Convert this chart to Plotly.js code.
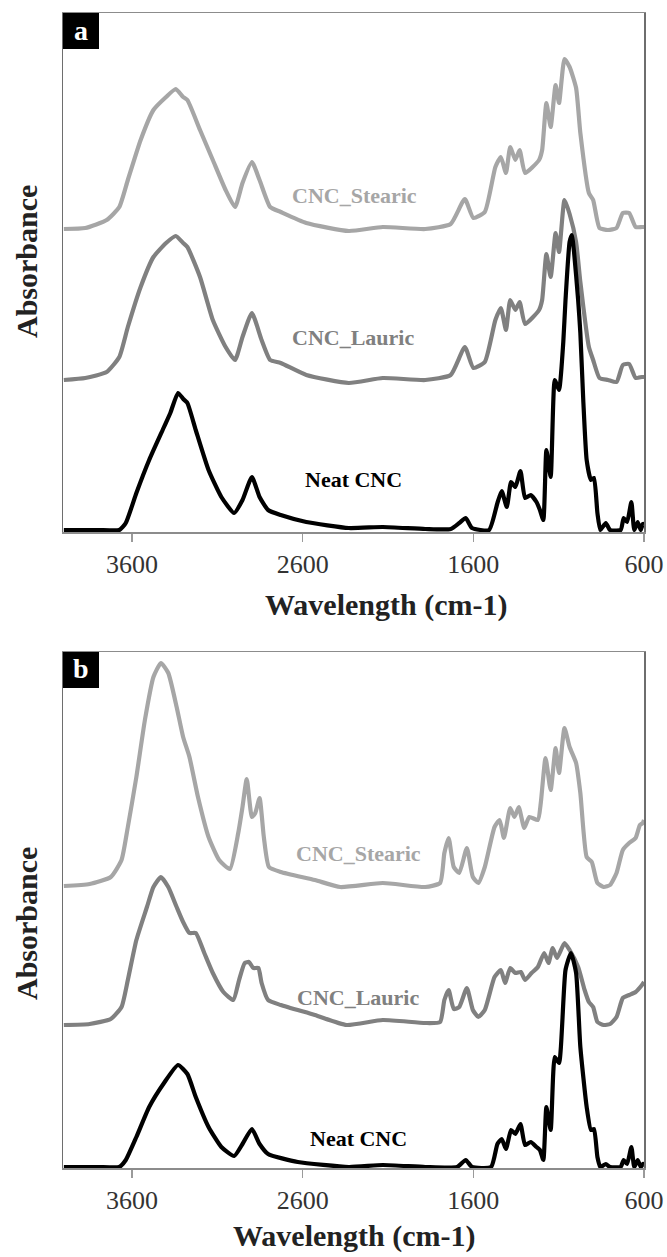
<!DOCTYPE html>
<html>
<head>
<meta charset="utf-8">
<script src="https://cdn.plot.ly/plotly-3.0.1.min.js"></script>
<style>html,body{margin:0;padding:0;background:#fff;}#chart{width:667px;height:1257px;}</style>
</head>
<body>
<div id="chart"></div>
<script>
// ---------- Panel a ----------
const aStearicWn = [4000,3874,3749,3675,3625,3550,3475,3401,3344,3301,3276,3202,3127,3052,2997,2953,2898,2853,2791,2729,2579,2330,2131,1882,1733,1650,1600,1533,1471,1439,1409,1384,1354,1329,1297,1215,1197,1172,1147,1118,1098,1066,1036,998,973,923,898,861,811,761,724,687,649,612,600];
const aStearicAbs = [303,304,312,325,352,392,422,435,443,435,432,402,372,342,325,349,370,352,325,320,309,301,305,303,308,333,314,320,365,375,359,385,372,382,359,372,382,429,405,447,429,473,465,444,399,339,332,304,302,304,319,319,305,305,305];

const aLauricWn = [4000,3874,3749,3675,3625,3550,3475,3401,3344,3301,3276,3202,3127,3052,2997,2953,2898,2841,2791,2729,2579,2330,2131,1882,1733,1650,1600,1533,1471,1439,1409,1384,1354,1329,1297,1215,1197,1172,1147,1118,1098,1066,1036,998,973,923,898,861,811,761,724,687,649,612,600];
const aLauricAbs = [152,154,160,175,205,245,275,289,296,289,285,255,212,185,172,195,219,192,172,169,157,149,154,152,157,185,164,170,212,224,202,232,222,230,208,222,232,278,255,299,280,332,318,290,250,185,172,154,152,150,167,168,154,155,155];

const aNeatWn = [4000,3800,3675,3637,3575,3500,3413,3376,3331,3300,3276,3227,3152,3077,3002,2953,2898,2853,2803,2729,2579,2330,2131,1882,1733,1683,1645,1608,1508,1459,1434,1404,1379,1354,1324,1297,1264,1230,1210,1190,1172,1147,1123,1098,1073,1060,1036,1023,1010,986,973,956,936,911,893,873,856,824,799,737,719,699,674,657,637,619,607,600];
const aNeatAbs = [2,2,2,9,39,72,105,119,139,133,129,102,62,35,19,32,55,35,22,17,10,4,5,3,3,9,14,4,2,29,41,25,50,45,61,34,37,30,22,12,82,55,152,142,190,232,290,297,280,232,199,132,72,52,54,19,2,9,2,2,14,10,30,2,10,2,8,8];

// ---------- Panel b ----------
const bStearicWn = [4000,3849,3725,3662,3625,3575,3525,3475,3431,3388,3339,3301,3264,3214,3152,3090,3027,2978,2953,2928,2898,2878,2853,2828,2798,2729,2529,2380,2131,1882,1795,1770,1745,1715,1683,1638,1603,1571,1533,1476,1446,1421,1384,1359,1334,1302,1272,1222,1205,1177,1147,1118,1098,1066,1036,998,973,936,906,873,836,799,761,724,687,649,624,607,600];
const bStearicAbs = [282,284,291,308,341,391,448,491,505,495,461,431,411,371,331,308,299,335,361,389,351,355,370,331,301,296,288,281,285,281,285,315,330,301,295,320,291,285,301,341,348,330,360,351,361,340,351,348,365,410,378,420,395,440,421,405,375,311,306,285,281,283,295,318,325,330,343,345,348];

const bLauricWn = [4000,3849,3725,3662,3625,3575,3513,3475,3431,3388,3339,3301,3264,3227,3177,3127,3065,3007,2973,2940,2915,2890,2860,2841,2803,2729,2529,2343,2131,1882,1795,1770,1745,1715,1683,1638,1603,1571,1533,1476,1439,1414,1384,1354,1322,1297,1259,1222,1185,1160,1135,1110,1066,1036,986,948,923,898,873,836,799,761,724,687,649,612,600];
const bLauricAbs = [143,144,149,161,188,228,261,281,291,281,261,246,235,235,215,195,176,168,188,205,206,200,200,185,168,163,153,143,148,145,146,168,178,159,161,180,158,151,158,191,198,185,200,195,196,188,195,201,215,205,220,210,225,218,201,178,166,161,146,143,144,151,170,173,176,183,186];

const bNeatWn = [4000,3800,3675,3637,3575,3500,3413,3331,3276,3227,3152,3077,3002,2953,2898,2853,2803,2629,2330,2131,1882,1695,1645,1608,1496,1459,1434,1409,1379,1354,1324,1297,1264,1230,1210,1190,1172,1147,1123,1098,1060,1028,998,973,936,911,893,873,856,824,799,737,719,699,674,657,637,619,607,600];
const bNeatAbs = [1,1,1,8,31,61,85,103,94,71,41,21,12,24,39,24,14,6,1,3,1,1,8,1,1,24,29,19,38,34,44,23,26,21,18,8,61,38,111,105,198,215,195,121,61,38,39,11,1,4,1,1,8,4,21,1,8,1,4,4];

const tickVals = [3600, 2600, 1600, 600];
const tickText = ['3600', '2600', '1600', '600'];
const seriesNames = ['CNC_Stearic', 'CNC_Lauric', 'Neat CNC'];
const seriesColors = ['#a6a6a6', '#808080', '#000000'];
const panelLetters = ['a', 'b'];
const xTitle = 'Wavelength (cm-1)';
const yTitle = 'Absorbance';

const W = 667, H = 1257;
const px = v => v / W;
const py = v => 1 - v / H;
const serif = 'Liberation Serif, Times New Roman, serif';

function tr(x, y, i, ax) {
  return {x: x, y: y, type: 'scatter', mode: 'lines', name: seriesNames[i],
    xaxis: ax === 1 ? 'x' : 'x2', yaxis: ax === 1 ? 'y' : 'y2',
    line: {color: seriesColors[i], width: 4.2, shape: 'spline', smoothing: 0.5},
    showlegend: false, hoverinfo: 'skip'};
}

const data = [
  tr(aStearicWn, aStearicAbs, 0, 1),
  tr(aLauricWn, aLauricAbs, 1, 1),
  tr(aNeatWn, aNeatAbs, 2, 1),
  tr(bStearicWn, bStearicAbs, 0, 2),
  tr(bLauricWn, bLauricAbs, 1, 2),
  tr(bNeatWn, bNeatAbs, 2, 2)
];

const xBase = {
  range: [4005, 600], domain: [px(63), px(644)], showgrid: false, zeroline: false,
  showline: true, linecolor: '#8c8c8c', linewidth: 1.5, mirror: true,
  ticks: 'outside', ticklen: 8, tickwidth: 1.5, tickcolor: '#9a9a9a',
  tickvals: tickVals, ticktext: tickText,
  tickfont: {family: serif, size: 26, color: '#333'}
};
const yBase = {
  showgrid: false, zeroline: false, showticklabels: false, ticks: '',
  showline: true, linecolor: '#6e6e6e', linewidth: 1.5, mirror: true
};

const layout = {
  width: W, height: H, margin: {l: 0, r: 0, t: 0, b: 0},
  paper_bgcolor: '#fff', plot_bgcolor: '#fff', showlegend: false,
  xaxis: Object.assign({}, xBase, {anchor: 'y'}),
  yaxis: Object.assign({}, yBase, {domain: [py(532), py(13)], range: [0, 519], anchor: 'x'}),
  xaxis2: Object.assign({}, xBase, {anchor: 'y2'}),
  yaxis2: Object.assign({}, yBase, {domain: [py(1168), py(652)], range: [0, 516], anchor: 'x2'}),
  shapes: [
    {type: 'rect', xref: 'paper', yref: 'paper', x0: px(63), x1: px(99), y0: py(49), y1: py(13), fillcolor: '#000', line: {width: 0}},
    {type: 'rect', xref: 'paper', yref: 'paper', x0: px(63), x1: px(99), y0: py(688), y1: py(652), fillcolor: '#000', line: {width: 0}}
  ],
  annotations: []
};

function ann(text, x, y, size, color, angle) {
  layout.annotations.push({text: '<b>' + text + '</b>', xref: 'paper', yref: 'paper',
    x: px(x), y: py(y), xanchor: 'center', yanchor: 'middle', showarrow: false,
    textangle: angle || 0, font: {family: serif, size: size, color: color}});
}
ann(panelLetters[0], 81, 30, 28, '#fff');
ann(panelLetters[1], 81, 669, 28, '#fff');
ann(seriesNames[0], 354, 195, 22, seriesColors[0]);
ann(seriesNames[1], 353, 337, 22, seriesColors[1]);
ann(seriesNames[2], 353, 480, 22, seriesColors[2]);
ann(seriesNames[0], 358, 853, 22, seriesColors[0]);
ann(seriesNames[1], 358, 997, 22, seriesColors[1]);
ann(seriesNames[2], 358, 1138, 22, seriesColors[2]);
ann(xTitle, 386, 605, 30, '#222');
ann(xTitle, 354, 1236, 30, '#222');
ann(yTitle, 26, 262, 30, '#222', -90);
ann(yTitle, 26, 924, 30, '#222', -90);

Plotly.newPlot('chart', data, layout, {displayModeBar: false, staticPlot: true});
</script>
</body>
</html>
